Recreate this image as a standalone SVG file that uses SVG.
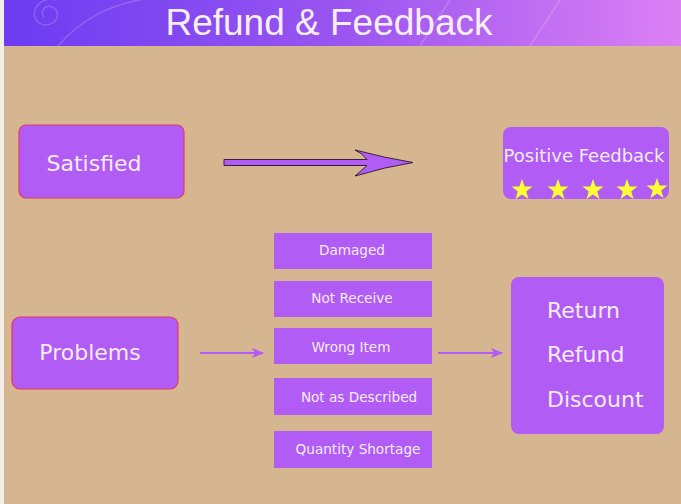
<svg xmlns="http://www.w3.org/2000/svg" width="681" height="504" viewBox="0 0 681 504">
<defs>
<linearGradient id="hdr" x1="0" y1="0" x2="1" y2="0">
<stop offset="0" stop-color="#6b3cf2"/>
<stop offset="0.5" stop-color="#9a55f0"/>
<stop offset="1" stop-color="#dc80f4"/>
</linearGradient>
<marker id="ah" viewBox="0 0 12 10" refX="11" refY="5" markerWidth="12" markerHeight="10" markerUnits="userSpaceOnUse" orient="auto">
<path d="M0,0 L12,5 L0,10 L3,5 Z" fill="#b05cf5"/>
</marker>
<path id="star" d="M0,-11 L2.6,-3.6 L10.5,-3.4 L4.2,1.4 L6.5,9 L0,4.5 L-6.5,9 L-4.2,1.4 L-10.5,-3.4 L-2.6,-3.6 Z"/>
</defs>
<style>
.node{fill:#b05cf5}
.red{stroke:#e03a66;stroke-width:1.2}
.t{font-family:"DejaVu Sans",Verdana,sans-serif;fill:#f6ecf6}
.big{font-size:22px}
.sm{font-size:13.6px;text-anchor:middle}
.conn{stroke:#b05cf5;stroke-width:2;fill:none}
</style>
<rect x="0" y="0" width="681" height="504" fill="#d6b591"/>
<rect x="0" y="0" width="4" height="504" fill="#f4eee8"/>
<g id="header">
<rect x="4" y="0" width="677" height="46" fill="url(#hdr)"/>
<g fill="none" stroke="#ffffff" stroke-opacity="0.18" stroke-width="1.5">
<path d="M44,18 C38,8 50,2 56,10 C62,20 48,30 38,22 C28,12 40,-4 56,0"/>
<path d="M58,46 C80,20 110,5 140,0"/>
<path d="M420,46 L450,0"/>
<path d="M530,46 L560,0"/>
</g>
<text x="329" y="35" font-family="'Liberation Sans',Arial,sans-serif" font-size="37" fill="#f8eef8" text-anchor="middle">Refund &amp; Feedback</text>
</g>
<g id="connectors">
<path d="M224,159.5 L367,159.5 Q362,153 355,150 Q385,158 413,162.5 Q385,167 355,176 Q362,170 367,165.5 L224,165.5 Z" fill="#b05cf5" stroke="#3a1f3a" stroke-width="1"/>
<line class="conn" x1="200" y1="353" x2="263" y2="353" marker-end="url(#ah)"/>
<line class="conn" x1="438" y1="353" x2="502" y2="353" marker-end="url(#ah)"/>
</g>
<g id="satisfied">
<rect class="node red" x="19" y="125" width="165" height="73" rx="7"/>
<text class="t big" x="94" y="171" text-anchor="middle">Satisfied</text>
</g>
<g id="positive-feedback">
<rect class="node" x="503" y="127" width="166" height="72" rx="8"/>
<text class="t" x="584" y="162" font-size="18" text-anchor="middle">Positive Feedback</text>
<g fill="#ffff33">
<use href="#star" x="522" y="190"/>
<use href="#star" x="558" y="190"/>
<use href="#star" x="593" y="190"/>
<use href="#star" x="627" y="190"/>
<use href="#star" x="657" y="189"/>
</g>
</g>
<g id="problems">
<rect class="node red" x="12" y="317" width="166" height="72" rx="8"/>
<text class="t big" x="90" y="360" text-anchor="middle">Problems</text>
</g>
<g id="damaged">
<rect class="node" x="274" y="233" width="158" height="36"/>
<text class="t sm" x="352" y="255">Damaged</text>
</g>
<g id="not-receive">
<rect class="node" x="274" y="281" width="158" height="36"/>
<text class="t sm" x="352" y="303">Not Receive</text>
</g>
<g id="wrong-item">
<rect class="node" x="274" y="328" width="158" height="36"/>
<text class="t sm" x="351" y="352">Wrong Item</text>
</g>
<g id="not-as-described">
<rect class="node" x="274" y="378" width="158" height="37"/>
<text class="t sm" x="359" y="402">Not as Described</text>
</g>
<g id="quantity-shortage">
<rect class="node" x="274" y="431" width="158" height="37"/>
<text class="t sm" x="358" y="454">Quantity Shortage</text>
</g>
<g id="resolution">
<rect class="node" x="511" y="277" width="153" height="157" rx="8"/>
<text class="t big" x="547" y="318">Return</text>
<text class="t big" x="547" y="362">Refund</text>
<text class="t big" x="547" y="407">Discount</text>
</g>
</svg>
